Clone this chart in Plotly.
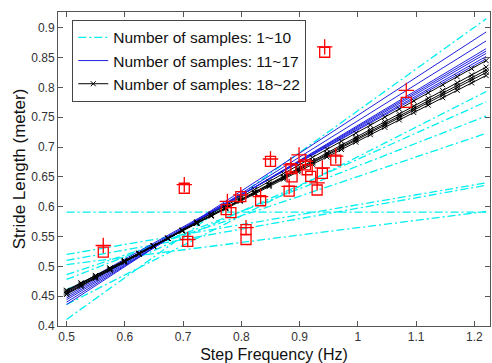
import numpy as np
import plotly.graph_objects as go

# ---- regression lines: value at x=0.5 (left) and x=1.22 (right) ----
x_start, x_end = 0.5, 1.22
cyan_left = [0.591, 0.520, 0.510, 0.503, 0.486, 0.478, 0.461, 0.436, 0.411]
cyan_right = [0.591, 0.640, 0.636, 0.592, 0.723, 0.752, 0.776, 0.793, 0.915]
blue_left = [0.458, 0.454, 0.450, 0.447, 0.444, 0.440, 0.436]
blue_right = [0.848, 0.852, 0.857, 0.861, 0.865, 0.878, 0.893]
black_left = [0.460, 0.459, 0.457, 0.455, 0.453]
black_right = [0.820, 0.825, 0.829, 0.834, 0.845]
black_marker_x = list(np.linspace(0.5, 1.22, 30))

# ---- measured samples ----
sq_x = [0.563, 0.702, 0.708, 0.774, 0.782, 0.799, 0.808, 0.808, 0.833, 0.850, 0.882,
        0.885, 0.887, 0.910, 0.913, 0.919, 0.930, 0.939, 0.962, 0.943, 1.083]
sq_y = [0.524, 0.631, 0.542, 0.595, 0.590, 0.617, 0.5615, 0.545, 0.610, 0.676, 0.626,
        0.664, 0.650, 0.670, 0.662, 0.651, 0.628, 0.656, 0.678, 0.859, 0.775]
plus_x = [0.563, 0.702, 0.708, 0.776, 0.799, 0.808, 0.833, 0.850, 0.882, 0.885,
          0.899, 0.910, 0.930, 0.939, 0.962, 0.943, 1.083]
plus_y = [0.535, 0.637, 0.545, 0.609, 0.620, 0.565, 0.617, 0.680, 0.634, 0.670,
          0.687, 0.676, 0.640, 0.665, 0.685, 0.868, 0.795]

legend_names = ["Number of samples: 1~10", "Number of samples: 11~17",
                "Number of samples: 18~22"]

fig = go.Figure()

def line_y(l, r, xs):
    return [l + (r - l) * (x - x_start) / (x_end - x_start) for x in xs]

for i, (l, r) in enumerate(zip(cyan_left, cyan_right)):
    fig.add_trace(go.Scatter(
        x=[x_start, x_end], y=[l, r], mode="lines",
        line=dict(color="#00F0F0", width=1.3, dash="8px,3px,2px,3px"),
        name=legend_names[0], legendgroup="g1", showlegend=(i == 0)))

for i, (l, r) in enumerate(zip(blue_left, blue_right)):
    fig.add_trace(go.Scatter(
        x=[x_start, x_end], y=[l, r], mode="lines",
        line=dict(color="#2020E0", width=1),
        name=legend_names[1], legendgroup="g2", showlegend=(i == 0)))

for i, (l, r) in enumerate(zip(black_left, black_right)):
    fig.add_trace(go.Scatter(
        x=black_marker_x, y=line_y(l, r, black_marker_x), mode="lines+markers",
        line=dict(color="#000000", width=1),
        marker=dict(symbol="x-thin", size=5, color="#000000",
                    line=dict(color="#000000", width=1)),
        name=legend_names[2], legendgroup="g3", showlegend=(i == 0)))

fig.add_trace(go.Scatter(
    x=sq_x, y=sq_y, mode="markers", showlegend=False,
    marker=dict(symbol="square-open", size=10, color="#FF0000",
                line=dict(color="#FF0000", width=1.3))))
fig.add_trace(go.Scatter(
    x=plus_x, y=plus_y, mode="markers", showlegend=False,
    marker=dict(symbol="cross-thin", size=11, color="#FF0000",
                line=dict(color="#FF0000", width=1.3))))

axis_common = dict(showline=True, linecolor="#555555", linewidth=1, mirror="ticks",
                   ticks="inside", ticklen=5, tickcolor="#555555", showgrid=False,
                   zeroline=False, tickfont=dict(family="Liberation Sans, Arial", size=12,
                                                 color="#333333"))

fig.update_layout(
    width=492, height=363,
    margin=dict(l=58, r=1, t=12, b=35),
    paper_bgcolor="white", plot_bgcolor="white",
    font=dict(family="Liberation Sans, Arial", color="#222222"),
    showlegend=True,
    legend=dict(x=0.033, y=0.975, xanchor="left", yanchor="top",
                bgcolor="white", bordercolor="#444444", borderwidth=1,
                font=dict(size=15.5, color="#111111"), tracegroupgap=0),
    xaxis=dict(range=[0.4853, 1.2267], tickvals=[0.5, 0.6, 0.7, 0.8, 0.9, 1.0, 1.1, 1.2],
               ticktext=["0.5", "0.6", "0.7", "0.8", "0.9", "1", "1.1", "1.2"],
               title=dict(text="Step Frequency (Hz)", font=dict(size=16, color="#111111"),
                          standoff=6),
               **axis_common),
    yaxis=dict(range=[0.4, 0.9265],
               tickvals=[0.4, 0.45, 0.5, 0.55, 0.6, 0.65, 0.7, 0.75, 0.8, 0.85, 0.9],
               ticktext=["0.4", "0.45", "0.5", "0.55", "0.6", "0.65", "0.7", "0.75",
                         "0.8", "0.85", "0.9"],
               title=dict(text="Stride Length (meter)", font=dict(size=17, color="#111111"),
                          standoff=1),
               **axis_common),
)

fig.write_html("out.html", config={"displayModeBar": False},
               post_script="document.body.style.margin='0';document.body.style.padding='0';"
                           "document.body.style.overflow='hidden';")
